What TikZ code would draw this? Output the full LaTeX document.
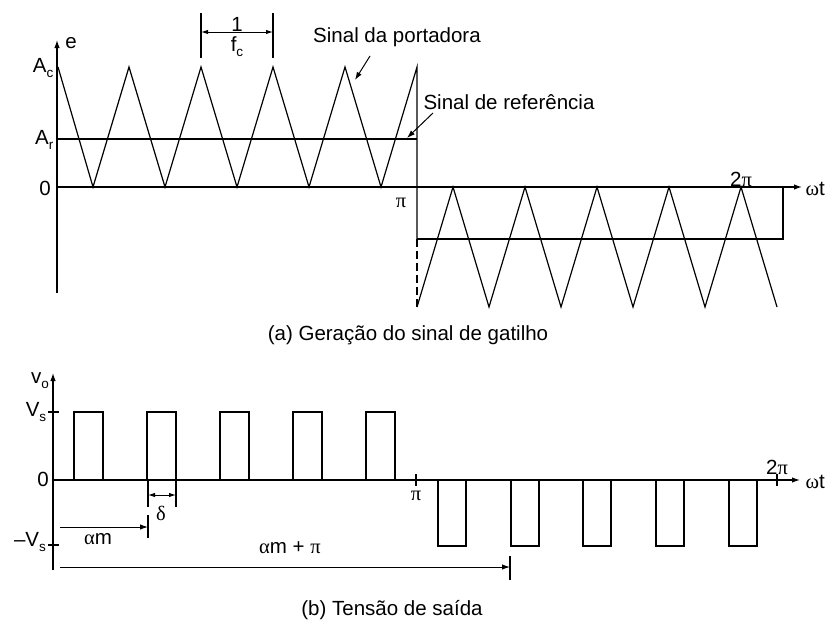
\documentclass[tikz,border=0pt]{standalone}
\usepackage{fontspec}
\setmainfont{Liberation Sans}
\newfontfamily\grk{Liberation Serif}
\usetikzlibrary{arrows.meta}
\newcommand{\lsub}[1]{\raisebox{-0.45ex}{\fontsize{13.5}{14}\selectfont #1}}
\newcommand{\gpi}{{\grk π}}
\begin{document}
\begin{tikzpicture}[x=1pt,y=-1pt,line width=1.2pt,line join=miter,
  lbl/.style={font=\fontsize{20.5}{23}\selectfont, inner sep=0pt},
  tipend/.style={-{Latex[length=8pt,width=5.5pt]}},
  tipboth/.style={{Latex[length=7pt,width=4.5pt]}-{Latex[length=7pt,width=4.5pt]}},
  tick/.style={line width=1.2pt}]
\useasboundingbox (0,0) rectangle (828,621);

% ================= (a) =================
\draw[tipend] (57,293) -- (57,40);
\draw[tipend] (57,187) -- (802,187);
\draw (58,67) -- (93,187) -- (129,67) -- (165,187) -- (201,67) -- (237,187)
  -- (273,67) -- (309,187) -- (345,67) -- (381,187) -- (417,67) -- (417,239);
\draw[dash pattern=on 8pt off 4pt] (417,239) -- (417,307);
\draw (417,307) -- (453,187) -- (489,307) -- (525,187) -- (561,307) -- (597,187)
  -- (633,307) -- (669,187) -- (705,307) -- (741,187) -- (777,307);
\draw (57,139) -- (417,139);
\draw (417,239) -- (783,239) -- (783,187);

\node[lbl] (le) at (71,43) {e};
\node[lbl,anchor=east] (lAc) at (54,68) {A\lsub{c}};
\node[lbl,anchor=east] (lAr) at (54,140) {A\lsub{r}};
\node[lbl] (l0a) at (45,188) {0};
\node[lbl] (lpia) at (401,203) {\gpi};
\node[lbl] (l2pia) at (741,179) {2\gpi};
\node[lbl,anchor=west] (lwta) at (805,189) {{\grk ω}t};

\draw[tick] (201,13) -- (201,58);
\draw[tick] (273,13) -- (273,58);
\draw[tipboth,line width=1pt] (201,32) -- (273,32);
\node[lbl] (lone) at (237,24) {1};
\node[lbl] (lfc) at (237,47) {f\lsub{c}};

\node[lbl] (lport) at (397,37) {Sinal da portadora};
\coordinate (cport) at (355,80);
\draw[tipend,line width=1pt] (370,56) -- (cport);
\node[lbl] (lref) at (509,102) {Sinal de referência};
\coordinate (cref) at (407,138);
\draw[tipend,line width=1pt] (433,113) -- (cref);

\node[lbl] (capa) at (408,335) {(a) Geração do sinal de gatilho};

% ================= (b) =================
\draw[tipend] (53,570) -- (53,373);
\draw[tipend] (53,480) -- (800,480);
\draw[tick] (48,412) -- (59,412);
\draw[tick] (48,545) -- (59,545);
\draw[tick] (416,474) -- (416,486);
\draw[tick] (777,474) -- (777,486);
\foreach \s in {74,147,220,293,366}
  \draw (\s,480) -- (\s,412) -- (\s+29,412) -- (\s+29,480);
\foreach \s in {438,511,583,656,729}
  \draw (\s,480) -- (\s,546) -- (\s+28,546) -- (\s+28,480);

\node[lbl] (lvo) at (40,381) {v\lsub{o}};
\node[lbl] (lVs) at (36,412) {V\lsub{s}};
\node[lbl] (l0b) at (43,479) {0};
\node[lbl] (lmVs) at (30,542) {\char"2013V\lsub{s}};
\node[lbl] (lpib) at (416,496) {\gpi};
\node[lbl] (l2pib) at (777,467) {2\gpi};
\node[lbl,anchor=west] (lwtb) at (805,482) {{\grk ω}t};

\draw[tick] (148,480) -- (148,507);
\draw[tick] (176,480) -- (176,507);
\draw[tipboth,line width=1pt] (148,495) -- (176,495);
\node[lbl] (ldelta) at (161,513) {{\grk δ}};

\draw[tick] (148,515) -- (148,538);
\coordinate (cam0) at (60,527);
\coordinate (cam1) at (148,527);
\draw[tipend,line width=1pt] (cam0) -- (cam1);
\node[lbl] (lam) at (98,539) {{\grk α}m};

\draw[tick] (510,556) -- (510,580);
\coordinate (camp0) at (60,567);
\coordinate (camp1) at (510,567);
\draw[tipend,line width=1pt] (camp0) -- (camp1);
\node[lbl] (lamp) at (290,548) {{\grk α}m + \gpi};

\node[lbl] (capb) at (392,610) {(b) Tensão de saída};
\end{tikzpicture}
\end{document}
